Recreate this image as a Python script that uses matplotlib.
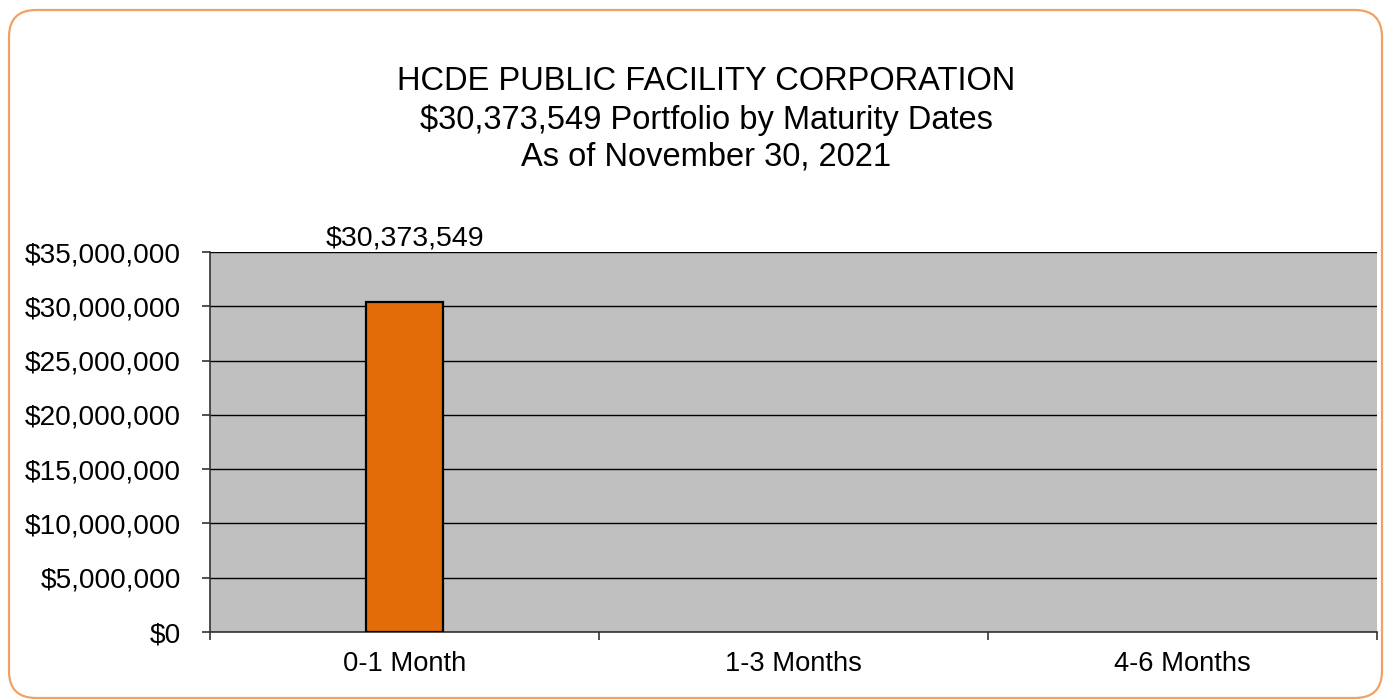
import matplotlib.pyplot as plt
from matplotlib.patches import FancyBboxPatch
from matplotlib.ticker import FuncFormatter, FixedLocator

plt.rcParams["font.family"] = ["Liberation Sans", "DejaVu Sans"]

categories = ["0-1 Month", "1-3 Months", "4-6 Months"]
values = [30373549, 0, 0]
title_lines = ["HCDE PUBLIC FACILITY CORPORATION",
               "$30,373,549 Portfolio by Maturity Dates",
               "As of November 30, 2021"]

fig = plt.figure(figsize=(13.87, 7.0), dpi=100)
fig.patch.set_facecolor("white")

# rounded frame around the whole chart
frame = FancyBboxPatch((0.09, 0.02), 13.73, 6.88,
                       boxstyle="round,pad=0,rounding_size=0.27",
                       transform=fig.dpi_scale_trans,
                       facecolor="none", edgecolor="#F2A063", linewidth=1.6)
fig.patches.append(frame)

fig.text(0.509, 0.829, "\n".join(title_lines), ha="center", va="center",
         fontsize=23.5, linespacing=1.27)

ax = fig.add_axes([0.1514, 0.0971, 0.8414, 0.5429])
ax.set_facecolor("#C0C0C0")

x = range(len(categories))
ax.bar(x[0:1], values[0:1], width=0.2, color="#E36C09", edgecolor="black",
       linewidth=1.6, zorder=3)

ax.annotate(f"${values[0]:,.0f}", xy=(0, values[0]), xytext=(0, 46),
            textcoords="offset points", ha="center", va="center",
            fontsize=20.5, annotation_clip=False)

ax.set_xlim(-0.5, 2.5)
ax.set_ylim(0, 35000000)
ax.set_yticks(range(0, 35000001, 5000000))
ax.yaxis.set_major_formatter(FuncFormatter(lambda v, p: f"${v:,.0f}"))
ax.grid(axis="y", color="black", linewidth=1.0, zorder=1)
ax.set_axisbelow(True)

ax.set_xticks(list(x))
ax.set_xticklabels(categories)
ax.xaxis.set_minor_locator(FixedLocator([-0.5, 0.5, 1.5, 2.5]))
ax.tick_params(axis="x", which="major", length=0, pad=14, labelsize=19.7)
ax.tick_params(axis="x", which="minor", length=6, width=1.2, color="#333333")
ax.tick_params(axis="y", length=6, width=1.2, color="#333333", pad=15, labelsize=20.2)

for s in ["top", "right"]:
    ax.spines[s].set_visible(False)
for s in ["left", "bottom"]:
    ax.spines[s].set_color("#333333")
    ax.spines[s].set_linewidth(1.2)

fig.savefig("out.png", dpi=100)
